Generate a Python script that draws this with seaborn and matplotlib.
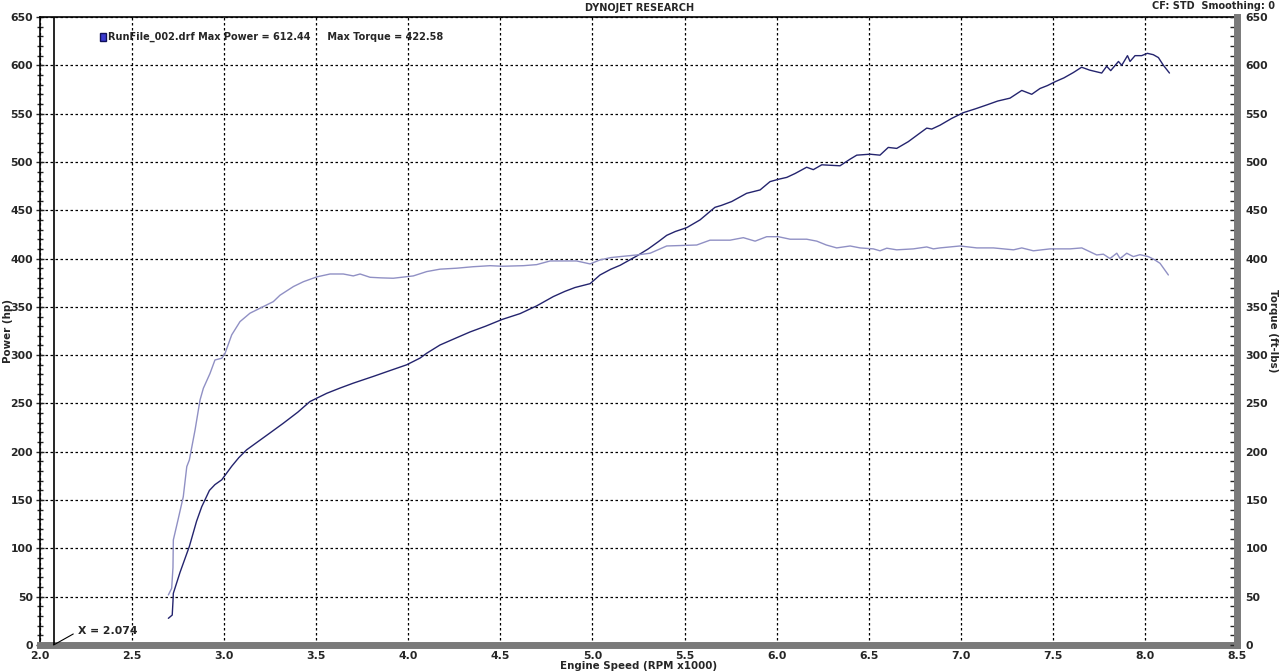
import numpy as np
import pandas as pd
import matplotlib.pyplot as plt
from matplotlib.patches import Patch
import seaborn as sns

# Data
rpm_power = [2.697, 2.718, 2.722, 2.724, 2.76, 2.811, 2.85, 2.878, 2.92, 2.95, 2.987, 3.041,
             3.08, 3.122, 3.18, 3.249, 3.321, 3.40, 3.466, 3.557, 3.63, 3.701, 3.81, 3.90,
             3.991, 4.064, 4.10, 4.172, 4.25, 4.335, 4.42, 4.51, 4.607, 4.697, 4.787, 4.85,
             4.905, 4.987, 5.041, 5.10, 5.15, 5.24, 5.303, 5.358, 5.403, 5.45, 5.512, 5.584,
             5.665, 5.70, 5.756, 5.837, 5.91, 5.964, 6.009, 6.055, 6.10, 6.163, 6.199, 6.245,
             6.344, 6.40, 6.435, 6.507, 6.561, 6.606, 6.652, 6.715, 6.779, 6.815, 6.842, 6.887,
             6.95, 7.014, 7.08, 7.141, 7.20, 7.267, 7.331, 7.385, 7.43, 7.47, 7.512, 7.56,
             7.611, 7.656, 7.70, 7.765, 7.792, 7.814, 7.856, 7.874, 7.905, 7.919, 7.946, 7.982,
             8.013, 8.045, 8.073, 8.10, 8.133]
power_hp = [27.6, 31, 45, 53.5, 75, 102, 128, 143, 160, 166, 171, 185,
            194, 202, 210, 219.5, 229.5, 241, 252, 260.5, 266, 271, 278, 284,
            290, 297, 302, 310.5, 317, 324, 330, 337, 343, 351, 360.6, 366,
            370, 374, 383, 389, 393, 402.6, 410, 417.5, 424, 428, 432, 440,
            453, 455, 459, 467.5, 471, 479.6, 482, 484, 488, 494.5, 492, 497,
            496, 503, 507, 508, 507, 515, 514, 521, 530, 535, 534, 538,
            545, 551, 555, 559, 563, 566, 574, 570, 576, 579, 583, 587,
            592.5, 598, 595, 592, 599, 594.5, 604, 600, 610, 604, 610, 610,
            612.4, 611, 608, 600, 592]

rpm_torque = [2.697, 2.715, 2.722, 2.724, 2.75, 2.778, 2.797, 2.811, 2.842, 2.869, 2.887, 2.923,
              2.95, 2.987, 3.005, 3.041, 3.086, 3.14, 3.195, 3.267, 3.303, 3.376, 3.43, 3.503,
              3.575, 3.647, 3.701, 3.738, 3.792, 3.85, 3.918, 4.027, 4.10, 4.172, 4.263, 4.35,
              4.444, 4.51, 4.625, 4.697, 4.77, 4.914, 4.987, 5.041, 5.10, 5.15, 5.24, 5.313,
              5.403, 5.566, 5.638, 5.747, 5.819, 5.883, 5.946, 6.009, 6.073, 6.163, 6.218, 6.27,
              6.326, 6.399, 6.453, 6.525, 6.561, 6.598, 6.652, 6.742, 6.815, 6.851, 6.887, 6.996,
              7.087, 7.177, 7.286, 7.331, 7.394, 7.485, 7.593, 7.657, 7.738, 7.774, 7.81, 7.847,
              7.865, 7.901, 7.937, 7.973, 8.018, 8.05, 8.082, 8.127]
torque_ftlb = [51.8, 58.7, 80, 108.7, 130, 153.5, 184.6, 191.5, 222.6, 253.6, 265.7, 281,
               295, 296.8, 302, 321, 334.7, 343.4, 348.6, 355.4, 362, 371, 376, 381,
               384, 384, 382, 384, 380.6, 380, 379.6, 382, 386.5, 389, 390, 391.5,
               392.6, 392, 392.6, 393.7, 397.5, 397.5, 394.4, 398.6, 401, 402, 403.7, 405.5,
               413, 414, 419, 419, 421.6, 418, 422.6, 422.6, 420, 420, 418, 414,
               411, 413, 411, 410, 408, 410.7, 409, 410, 412, 410, 411, 413,
               411, 411, 409, 411, 408, 410, 410, 411, 403.7, 404.5, 400, 405.5,
               400, 405.5, 402, 404, 402, 399, 395, 383]

cursor_x = 2.074
legend_label = 'RunFile_002.drf Max Power = 612.44     Max Torque = 422.58'

df_power = pd.DataFrame({'rpm': rpm_power, 'hp': power_hp})
df_torque = pd.DataFrame({'rpm': rpm_torque, 'tq': torque_ftlb})

sns.set_style('white')
plt.rcParams['font.family'] = ['DejaVu Sans']
plt.rcParams['font.weight'] = 'bold'

power_color = '#24246e'
torque_color = '#9090c4'
tick_fs = 7.8
text_fs = 7.0

fig = plt.figure(figsize=(12.8, 6.72), dpi=100)
ax = fig.add_axes([0.03125, 0.0402, 0.9352, 0.9345])
ax2 = ax.twinx()

sns.lineplot(data=df_power, x='rpm', y='hp', ax=ax, color=power_color, linewidth=1.0,
             sort=False, estimator=None)
sns.lineplot(data=df_torque, x='rpm', y='tq', ax=ax2, color=torque_color, linewidth=1.0,
             sort=False, estimator=None)

for a in (ax, ax2):
    a.set_xlim(2.0, 8.5)
    a.set_ylim(0, 650)
    a.set_yticks(np.arange(0, 651, 50))
    a.set_yticks(np.arange(0, 651, 10), minor=True)

ax.set_xticks(np.arange(2.0, 8.51, 0.5))
ax.set_xticks(np.arange(2.0, 8.51, 0.1), minor=True)
ax.set_xticklabels([f'{v:.1f}' for v in np.arange(2.0, 8.51, 0.5)])

ax.grid(True, which='major', color='black', linestyle=(0, (2, 2)), linewidth=0.9)
ax.set_axisbelow(True)

ax.tick_params(axis='y', which='both', direction='inout', length=6, width=1,
               labelsize=tick_fs, pad=2)
ax.tick_params(axis='y', which='minor', length=5)
ax.tick_params(axis='x', which='both', direction='in', length=5, width=1,
               labelsize=tick_fs, pad=4)
ax2.tick_params(axis='y', which='both', direction='in', length=5, width=1,
                labelsize=tick_fs, pad=6)

ax.spines['left'].set_color('black')
ax.spines['left'].set_linewidth(1.2)
ax.spines['top'].set_color('black')
ax.spines['top'].set_linewidth(1.2)
ax.spines['bottom'].set_color('#7a7a7a')
ax.spines['bottom'].set_linewidth(5)
ax.spines['right'].set_visible(False)
for s in ('left', 'top', 'bottom'):
    ax2.spines[s].set_visible(False)
ax2.spines['right'].set_color('#7a7a7a')
ax2.spines['right'].set_linewidth(5)

ax.set_xlabel('Engine Speed (RPM x1000)', fontsize=7.4, fontweight='bold')
ax.set_ylabel('Power (hp)', fontsize=7.4, fontweight='bold')
ax2.set_ylabel('Torque (ft-lbs)', fontsize=7.4, fontweight='bold', rotation=270)
ax.xaxis.set_label_coords(0.5, -0.033)
ax.yaxis.set_label_coords(-0.027, 0.5)
ax2.yaxis.set_label_coords(1.03, 0.5)
ax.xaxis.label.set_va('center')
ax.yaxis.label.set_va('center')
ax2.yaxis.label.set_va('center')

# cursor line
ax.axvline(cursor_x, color='black', linewidth=1.2, zorder=3)
ax.annotate(f'X = {cursor_x:.3f}', xy=(cursor_x, 0), xytext=(2.205, 14),
            fontsize=tick_fs, fontweight='bold', va='center', ha='left',
            arrowprops=dict(arrowstyle='-', color='black', lw=0.8,
                            relpos=(0, 0.5), shrinkA=1, shrinkB=0))

handle = Patch(facecolor='#3a3ad0', edgecolor='#10105a')
ax.legend([handle], [legend_label], loc='upper left', bbox_to_anchor=(0.043, 0.99),
          frameon=False, handlelength=0.6, handleheight=0.9,
          handletextpad=0.2, prop={'weight': 'bold', 'size': text_fs})

fig.text(0.5, 0.996, 'DYNOJET RESEARCH', ha='center', va='top', fontsize=text_fs,
         fontweight='bold')
fig.text(0.996, 0.998, 'CF: STD  Smoothing: 0', ha='right', va='top', fontsize=text_fs,
         fontweight='bold')

fig.savefig('out.png', dpi=100)
